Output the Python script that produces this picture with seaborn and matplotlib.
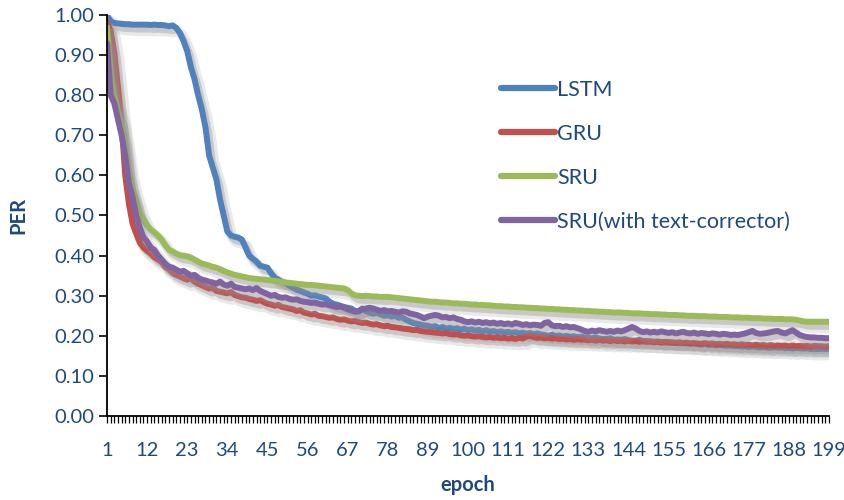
import numpy as np
import pandas as pd
import matplotlib
matplotlib.use("Agg")
import matplotlib.pyplot as plt
import matplotlib.patheffects as pe
from matplotlib.ticker import FixedLocator, FixedFormatter
import seaborn as sns

# ---- data -------------------------------------------------------------
epochs = list(range(1, 200))

lstm = [
    1.000, 0.984, 0.980, 0.979, 0.978, 0.977, 0.977, 0.976, 0.976, 0.976,
    0.976, 0.976, 0.975, 0.976, 0.975, 0.975, 0.974, 0.972, 0.974, 0.968,
    0.955, 0.935, 0.910, 0.870, 0.840, 0.800, 0.765, 0.720, 0.650, 0.620,
    0.590, 0.540, 0.500, 0.460, 0.450, 0.447, 0.445, 0.440, 0.420, 0.400,
    0.392, 0.385, 0.375, 0.372, 0.370, 0.356, 0.345, 0.340, 0.335, 0.332,
    0.325, 0.320, 0.315, 0.312, 0.308, 0.305, 0.300, 0.301, 0.298, 0.296,
    0.293, 0.285, 0.280, 0.278, 0.275, 0.272, 0.270, 0.268, 0.262, 0.260,
    0.268, 0.262, 0.258, 0.255, 0.258, 0.254, 0.250, 0.252, 0.248, 0.250,
    0.245, 0.246, 0.240, 0.236, 0.232, 0.230, 0.228, 0.226, 0.225, 0.222,
    0.224, 0.220, 0.222, 0.218, 0.220, 0.217, 0.219, 0.215, 0.218, 0.214,
    0.216, 0.213, 0.215, 0.211, 0.214, 0.210, 0.212, 0.209, 0.211, 0.208,
    0.210, 0.207, 0.209, 0.206, 0.208, 0.205, 0.207, 0.204, 0.206, 0.203,
    0.202, 0.200, 0.203, 0.199, 0.201, 0.198, 0.200, 0.197, 0.199, 0.196,
    0.198, 0.196, 0.195, 0.194, 0.196, 0.193, 0.192, 0.192, 0.194, 0.190,
    0.191, 0.190, 0.192, 0.189, 0.188, 0.188, 0.190, 0.186, 0.187, 0.186,
    0.185, 0.186, 0.184, 0.183, 0.185, 0.182, 0.183, 0.181, 0.182, 0.181,
    0.180, 0.181, 0.179, 0.178, 0.180, 0.177, 0.178, 0.176, 0.177, 0.176,
    0.175, 0.176, 0.174, 0.175, 0.173, 0.174, 0.172, 0.174, 0.172, 0.171,
    0.172, 0.171, 0.170, 0.172, 0.170, 0.171, 0.169, 0.170, 0.168, 0.170,
    0.169, 0.168, 0.169, 0.167, 0.168, 0.167, 0.168, 0.167, 0.168,
]

gru = [
    0.980, 0.960, 0.905, 0.820, 0.730, 0.600, 0.530, 0.480, 0.455, 0.432,
    0.420, 0.412, 0.405, 0.396, 0.390, 0.384, 0.372, 0.366, 0.357, 0.352,
    0.348, 0.344, 0.340, 0.344, 0.335, 0.330, 0.326, 0.322, 0.318, 0.320,
    0.312, 0.310, 0.308, 0.306, 0.309, 0.302, 0.299, 0.296, 0.295, 0.292,
    0.290, 0.287, 0.289, 0.284, 0.280, 0.278, 0.275, 0.277, 0.272, 0.270,
    0.268, 0.266, 0.262, 0.264, 0.258, 0.256, 0.253, 0.255, 0.250, 0.249,
    0.247, 0.245, 0.246, 0.242, 0.240, 0.241, 0.238, 0.236, 0.237, 0.234,
    0.232, 0.233, 0.230, 0.228, 0.229, 0.226, 0.224, 0.225, 0.222, 0.221,
    0.220, 0.218, 0.217, 0.216, 0.214, 0.215, 0.212, 0.211, 0.210, 0.209,
    0.208, 0.207, 0.206, 0.207, 0.204, 0.203, 0.204, 0.201, 0.200, 0.201,
    0.199, 0.198, 0.199, 0.197, 0.196, 0.197, 0.195, 0.196, 0.194, 0.195,
    0.193, 0.194, 0.192, 0.195, 0.193, 0.198, 0.200, 0.197, 0.195, 0.196,
    0.194, 0.195, 0.193, 0.194, 0.192, 0.193, 0.191, 0.192, 0.190, 0.192,
    0.190, 0.191, 0.189, 0.190, 0.188, 0.190, 0.188, 0.189, 0.187, 0.189,
    0.187, 0.188, 0.186, 0.188, 0.186, 0.187, 0.185, 0.187, 0.185, 0.186,
    0.184, 0.185, 0.183, 0.185, 0.183, 0.184, 0.182, 0.184, 0.182, 0.183,
    0.181, 0.182, 0.181, 0.180, 0.182, 0.180, 0.181, 0.179, 0.180, 0.179,
    0.180, 0.178, 0.179, 0.177, 0.179, 0.177, 0.178, 0.176, 0.178, 0.176,
    0.177, 0.175, 0.177, 0.175, 0.176, 0.175, 0.176, 0.174, 0.176, 0.174,
    0.175, 0.174, 0.175, 0.173, 0.175, 0.174, 0.174, 0.173, 0.174,
]

sru = [
    0.970, 0.860, 0.800, 0.760, 0.730, 0.680, 0.610, 0.570, 0.540, 0.510,
    0.490, 0.475, 0.465, 0.458, 0.450, 0.440, 0.425, 0.415, 0.410, 0.405,
    0.401, 0.400, 0.398, 0.395, 0.390, 0.385, 0.380, 0.378, 0.375, 0.372,
    0.370, 0.366, 0.362, 0.358, 0.355, 0.352, 0.350, 0.348, 0.346, 0.344,
    0.343, 0.342, 0.341, 0.340, 0.339, 0.338, 0.337, 0.336, 0.334, 0.333,
    0.332, 0.331, 0.330, 0.329, 0.328, 0.327, 0.327, 0.326, 0.325, 0.324,
    0.323, 0.322, 0.321, 0.320, 0.319, 0.318, 0.314, 0.306, 0.301, 0.300,
    0.299, 0.300, 0.299, 0.298, 0.298, 0.297, 0.297, 0.297, 0.296, 0.295,
    0.294, 0.293, 0.292, 0.291, 0.290, 0.289, 0.288, 0.287, 0.286, 0.285,
    0.285, 0.284, 0.283, 0.283, 0.282, 0.281, 0.281, 0.280, 0.280, 0.279,
    0.278, 0.278, 0.277, 0.277, 0.276, 0.276, 0.275, 0.274, 0.274, 0.273,
    0.273, 0.272, 0.272, 0.271, 0.271, 0.270, 0.270, 0.269, 0.269, 0.268,
    0.268, 0.267, 0.267, 0.266, 0.266, 0.265, 0.265, 0.264, 0.264, 0.263,
    0.263, 0.262, 0.262, 0.261, 0.261, 0.260, 0.260, 0.259, 0.259, 0.258,
    0.258, 0.258, 0.257, 0.257, 0.256, 0.256, 0.256, 0.255, 0.255, 0.254,
    0.254, 0.254, 0.253, 0.253, 0.252, 0.252, 0.252, 0.251, 0.251, 0.250,
    0.250, 0.250, 0.249, 0.249, 0.249, 0.248, 0.248, 0.248, 0.247, 0.247,
    0.247, 0.246, 0.246, 0.246, 0.245, 0.245, 0.245, 0.244, 0.244, 0.244,
    0.243, 0.243, 0.243, 0.242, 0.242, 0.242, 0.241, 0.241, 0.241, 0.240,
    0.238, 0.236, 0.235, 0.235, 0.235, 0.235, 0.235, 0.235, 0.235,
]

sru_tc = [
    0.930, 0.800, 0.780, 0.740, 0.700, 0.650, 0.580, 0.546, 0.500, 0.470,
    0.445, 0.435, 0.420, 0.414, 0.400, 0.390, 0.380, 0.372, 0.370, 0.365,
    0.360, 0.362, 0.356, 0.350, 0.352, 0.345, 0.340, 0.338, 0.335, 0.333,
    0.330, 0.335, 0.328, 0.325, 0.330, 0.322, 0.320, 0.318, 0.316, 0.318,
    0.314, 0.319, 0.312, 0.308, 0.304, 0.300, 0.302, 0.297, 0.295, 0.296,
    0.292, 0.290, 0.291, 0.287, 0.285, 0.284, 0.282, 0.283, 0.280, 0.278,
    0.279, 0.276, 0.274, 0.272, 0.273, 0.270, 0.266, 0.263, 0.260, 0.262,
    0.266, 0.268, 0.270, 0.268, 0.265, 0.262, 0.264, 0.261, 0.262, 0.260,
    0.258, 0.261, 0.260, 0.256, 0.254, 0.252, 0.248, 0.244, 0.248, 0.250,
    0.252, 0.250, 0.246, 0.247, 0.244, 0.246, 0.242, 0.240, 0.236, 0.234,
    0.236, 0.233, 0.235, 0.232, 0.234, 0.231, 0.233, 0.230, 0.232, 0.229,
    0.231, 0.228, 0.232, 0.230, 0.227, 0.229, 0.226, 0.228, 0.227, 0.225,
    0.232, 0.234, 0.226, 0.224, 0.225, 0.222, 0.224, 0.221, 0.222, 0.219,
    0.216, 0.212, 0.210, 0.213, 0.211, 0.214, 0.212, 0.210, 0.212, 0.210,
    0.213, 0.211, 0.214, 0.218, 0.222, 0.218, 0.212, 0.209, 0.211, 0.208,
    0.210, 0.208, 0.211, 0.209, 0.207, 0.209, 0.206, 0.208, 0.210, 0.207,
    0.206, 0.208, 0.205, 0.207, 0.206, 0.204, 0.206, 0.205, 0.203, 0.205,
    0.204, 0.202, 0.203, 0.202, 0.204, 0.206, 0.209, 0.212, 0.207, 0.205,
    0.206, 0.207, 0.209, 0.211, 0.212, 0.208, 0.206, 0.210, 0.214, 0.208,
    0.202, 0.199, 0.197, 0.196, 0.196, 0.195, 0.195, 0.194, 0.194,
]

series_names = ["LSTM", "GRU", "SRU", "SRU(with text-corrector)"]
series_values = [lstm, gru, sru, sru_tc]
colors = ["#4F81BD", "#C0504D", "#9BBB59", "#8064A2"]

x_labels = [str(e) for e in range(1, 200, 11)]
y_ticks = [i / 10 for i in range(11)]

for v in series_values:
    assert len(v) == len(epochs)

df = pd.concat(
    [pd.DataFrame({"epoch": epochs, "PER": v, "model": n})
     for n, v in zip(series_names, series_values)],
    ignore_index=True,
)

# ---- style ------------------------------------------------------------
sns.set_theme(style="white")
plt.rcParams["font.family"] = ["Lato", "DejaVu Sans"]
text_color = "#1F497D"
fs = 14.5
legend_fs = 15.5

fig = plt.figure(figsize=(8.45, 5.00), dpi=100)
ax = fig.add_axes([107 / 845, 84 / 500, 722 / 845, 401 / 500])

sns.lineplot(
    data=df, x="epoch", y="PER", hue="model", hue_order=series_names,
    palette=colors, linewidth=4.3, errorbar=None, legend=False, ax=ax,
)

# soft drop shadow under each series
shadow = [
    pe.SimpleLineShadow(offset=(3.5, -4.5), shadow_color="#9c9c9c", alpha=0.22, linewidth=7.5),
    pe.SimpleLineShadow(offset=(2.5, -3.5), shadow_color="#8c8c8c", alpha=0.35, linewidth=4.5),
    pe.Normal(),
]
for line in ax.lines:
    line.set_path_effects(shadow)
    line.set_solid_capstyle("round")
    line.set_solid_joinstyle("round")

ax.set_xlim(1, 199)
ax.set_ylim(0, 1.0)

# axes, ticks
for side in ["top", "right"]:
    ax.spines[side].set_visible(False)
for side in ["left", "bottom"]:
    ax.spines[side].set_color("black")
    ax.spines[side].set_linewidth(1.3)

ax.set_yticks(y_ticks)
ax.set_yticklabels([f"{t:.2f}" for t in y_ticks])
ax.xaxis.set_major_locator(FixedLocator(list(range(1, 200, 11))))
ax.xaxis.set_major_formatter(FixedFormatter(x_labels))
ax.xaxis.set_minor_locator(FixedLocator(epochs))

ax.tick_params(axis="y", which="major", direction="out", length=6, width=1.2,
               color="black", labelsize=fs, labelcolor=text_color, pad=3, left=True)
ax.tick_params(axis="x", which="both", direction="out", length=5, width=0.9,
               color="black", bottom=True)
ax.tick_params(axis="x", which="major", labelsize=fs, labelcolor=text_color, pad=14)

ax.set_xlabel("epoch", fontsize=fs, fontweight="bold", color=text_color, labelpad=11)
ax.set_ylabel("PER", fontsize=fs, fontweight="bold", color=text_color, labelpad=19)

# legend
handles = [plt.Line2D([], [], color=c, linewidth=4.5, solid_capstyle="round") for c in colors]
fig.legend(
    handles, series_names, loc="upper left", bbox_to_anchor=(0.583, 0.858),
    frameon=False, fontsize=legend_fs, labelcolor=text_color, handlelength=2.5,
    handletextpad=0.08, labelspacing=1.12, borderaxespad=0,
)

fig.savefig("out.png", dpi=100, facecolor="white")
